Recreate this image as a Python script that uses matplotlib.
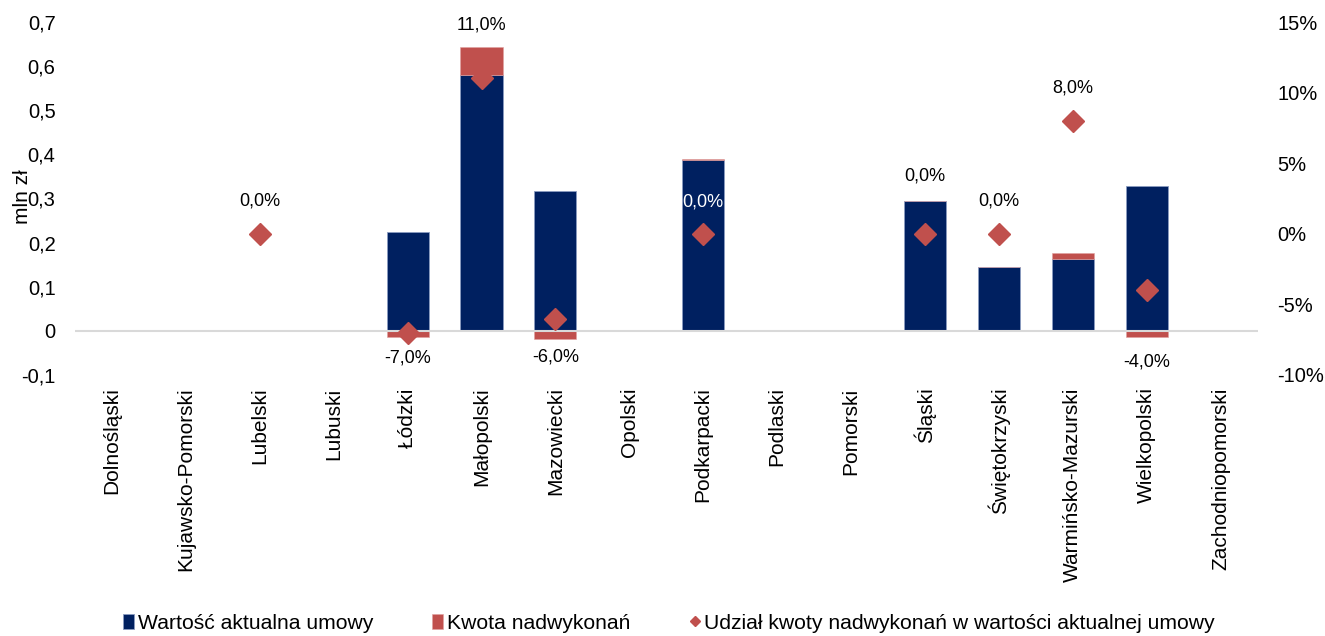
import matplotlib.pyplot as plt
import numpy as np

plt.rcParams['font.family'] = ['Liberation Sans', 'DejaVu Sans']

regions = ["Dolnośląski", "Kujawsko-Pomorski", "Lubelski", "Lubuski", "Łódzki",
           "Małopolski", "Mazowiecki", "Opolski", "Podkarpacki", "Podlaski",
           "Pomorski", "Śląski", "Świętokrzyski", "Warmińsko-Mazurski",
           "Wielkopolski", "Zachodniopomorski"]
wartosc = [0, 0, 0.003, 0, 0.224, 0.580, 0.317, 0, 0.387, 0, 0, 0.295, 0.145, 0.163, 0.328, 0]
kwota = [0, 0, 0, 0, -0.015, 0.064, -0.019, 0, 0.002, 0, 0, 0, 0, 0.013, -0.013, 0]
udzial = [None, None, 0.0, None, -7.0, 11.0, -6.0, None, 0.0, None, None, 0.0, 0.0, 8.0, -4.0, None]

# label offsets (pixels) for the percentage labels
lab_off = {2: 33, 4: -25, 5: 53, 6: -38, 8: 32, 11: 58, 12: 33, 13: 33, 14: -72}

navy = '#002060'
red = '#C0504D'

fig = plt.figure(figsize=(13.25, 6.36), dpi=100)
ax = fig.add_axes([0.0566, 0.4104, 0.8925, 0.555])
x = np.arange(len(regions))

ax.bar(x, wartosc, width=0.57, color=navy, edgecolor='#8a9cc0', linewidth=0.6,
       label='Wartość aktualna umowy')
pos_bottom = [w if k >= 0 else 0 for w, k in zip(wartosc, kwota)]
ax.bar(x, kwota, width=0.57, bottom=pos_bottom, color=red, edgecolor='#e0a0a0',
       linewidth=0.4, label='Kwota nadwykonań')
ax.axhline(0, color='#d9d9d9', linewidth=1.5, zorder=1)

ax.set_xlim(-0.5, len(regions) - 0.5)
ax.set_ylim(-0.1, 0.7)
ax.set_yticks(np.arange(-0.1, 0.71, 0.1))
ax.set_yticklabels(['-0,1', '0', '0,1', '0,2', '0,3', '0,4', '0,5', '0,6', '0,7'])
ax.set_xticks(x)
ax.set_xticklabels(regions, rotation=90, fontsize=15)
ax.tick_params(axis='y', length=0, labelsize=14.5, pad=14)
ax.tick_params(axis='x', length=0, pad=9)
for s in ax.spines.values():
    s.set_visible(False)

ax2 = ax.twinx()
ax2.set_ylim(-10, 15)
ax2.set_yticks([-10, -5, 0, 5, 10, 15])
ax2.set_yticklabels(['-10%', '-5%', '0%', '5%', '10%', '15%'])
ax2.tick_params(axis='y', length=0, labelsize=14.5, pad=14)
for s in ax2.spines.values():
    s.set_visible(False)

xs = [i for i, u in enumerate(udzial) if u is not None]
ys = [udzial[i] for i in xs]
ax2.plot(xs, ys, linestyle='none', marker='D', markersize=11, color=red,
         label='Udział kwoty nadwykonań w wartości aktualnej umowy')
for i in xs:
    txt = ('%.1f%%' % udzial[i]).replace('.', ',')
    col = 'white' if i == 8 else 'black'
    ax2.annotate(txt, (i, udzial[i]), xytext=(0, lab_off[i] * 0.72),
                 textcoords='offset points', ha='center', va='center',
                 fontsize=13, color=col)

fig.text(0.017, 0.69, 'mln zł', rotation=90, ha='center', va='center', fontsize=15)

h1, l1 = ax.get_legend_handles_labels()
h2, l2 = ax2.get_legend_handles_labels()
leg = fig.legend(h1 + h2, l1 + l2, loc='center', bbox_to_anchor=(0.505, 0.02),
                 ncol=3, frameon=False, fontsize=15.2, handlelength=0.5,
                 handletextpad=0.2, columnspacing=2.8, markerscale=0.5,
                 borderpad=0)

fig.savefig('out.png', dpi=100)
